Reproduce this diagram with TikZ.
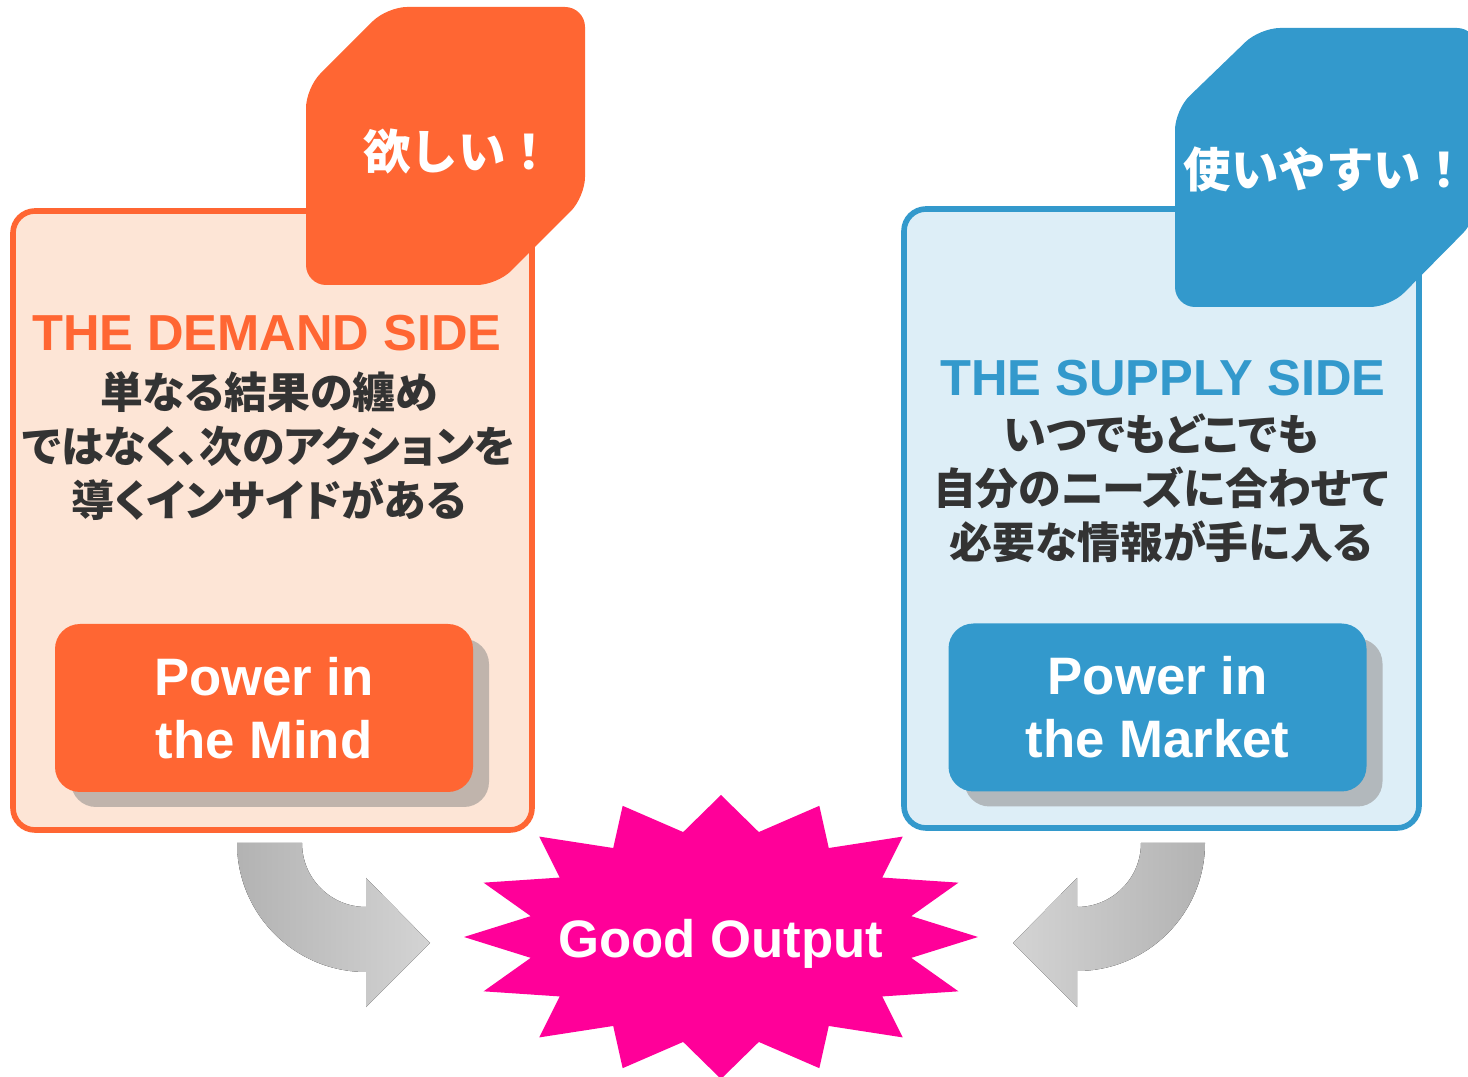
\documentclass[tikz,border=0pt]{standalone}
\usepackage{fontspec}
\setmainfont{Liberation Sans}
\newfontfamily\jp{Noto Sans CJK JP}
\newfontfamily\jpprop[RawFeature=+palt]{Noto Sans CJK JP}
\usetikzlibrary{shadows}
\definecolor{dorange}{HTML}{FF6633}
\definecolor{dpeach}{HTML}{FDE5D6}
\definecolor{sblue}{HTML}{3399CC}
\definecolor{slight}{HTML}{DDEEF7}
\definecolor{jgray}{HTML}{333333}
\definecolor{burstpink}{HTML}{FF0099}
\definecolor{dshadow}{HTML}{C0B4AC}
\definecolor{sshadow}{HTML}{B2B8BC}

\begin{document}
\begin{tikzpicture}[
    panel/.style={rectangle,rounded corners=0.22cm,line width=1.6pt,inner sep=0,minimum height=6.19cm},
    tag/.style={rounded corners=0.2cm},
    tagtext/.style={inner sep=0,text=white,font=\jp\bfseries\fontsize{13.5}{16}\selectfont},
    title/.style={anchor=base,font=\bfseries\fontsize{14.4}{17}\selectfont},
    jtext/.style={align=center,text=jgray,font=\jpprop\bfseries\fontsize{12.2}{15.3}\selectfont},
    button/.style={rounded corners=0.25cm,minimum width=4.18cm,minimum height=1.68cm,align=center,
        text=white,font=\bfseries\fontsize{15}{17.9}\selectfont,
        drop shadow={shadow xshift=0.16cm,shadow yshift=-0.15cm,fill=#1,opacity=1}},
    turn/.style={left color=gray!60,right color=gray!34}
]
    \useasboundingbox (0,0) rectangle (14.68,-10.77);

    \node[panel,draw=dorange,fill=dpeach,minimum width=5.19cm] (demand) at (2.725,-5.205) {};
    \node[panel,draw=sblue,fill=slight,minimum width=5.15cm] (supply) at (11.615,-5.185) {};

    \fill[tag,dorange] (3.06,-2.85) -- (3.06,-0.88) -- (3.87,-0.07) -- (5.85,-0.07) -- (5.85,-1.97) -- (4.97,-2.85) -- cycle;
    \fill[tag,sblue] (11.75,-3.07) -- (11.75,-1.10) -- (12.60,-0.28) -- (14.77,-0.28) -- (14.77,-2.19) -- (13.90,-3.07) -- cycle;
    \node[tagtext] (want) at (4.58,-1.51) {欲しい！};
    \node[tagtext] (easy) at (13.26,-1.69) {使いやすい！};

    \node[title,text=dorange] (dtitle) at (2.67,-3.51) {THE DEMAND SIDE};
    \node[title,text=sblue] (stitle) at (11.63,-3.96) {THE SUPPLY SIDE};
    \node[jtext] (dtext) at (2.69,-4.46) {単なる結果の纏め\\ではなく、次のアクションを\\導くインサイドがある};
    \node[jtext] (stext) at (11.61,-4.88) {いつでもどこでも\\自分のニーズに合わせて\\必要な情報が手に入る};

    \node[button=dshadow,fill=dorange] (mind) at (2.64,-7.08) {Power in\\the Mind};
    \node[button=sshadow,fill=sblue] (market) at (11.575,-7.075) {Power in\\the Market};

    \fill[turn] (2.37,-8.43) -- (3.02,-8.43) arc (180:270:0.64) -- (3.66,-8.78) -- (4.30,-9.43)
        -- (3.66,-10.07) -- (3.66,-9.72) arc (270:180:1.29) -- cycle;
    \fill[turn,left color=gray!34,right color=gray!60] (12.05,-8.43) -- (11.41,-8.43) arc (0:-90:0.64) -- (10.77,-8.78)
        -- (10.13,-9.43) -- (10.77,-10.07) -- (10.77,-9.71) arc (-90:0:1.28) -- cycle;

    \begin{scope}[shift={(7.21,-9.37)}]
        \fill[burstpink] (90:2.57 and 1.42) \foreach \a in {0,22.5,...,337.5}
            { -- ({\a+101.25}:1.94 and 1.07) -- ({\a+112.5}:2.57 and 1.42) } -- cycle;
    \end{scope}
    \node[anchor=base,text=white,font=\bfseries\fontsize{15}{18}\selectfont] (good) at (7.21,-9.58) {Good Output};
\end{tikzpicture}
\end{document}
